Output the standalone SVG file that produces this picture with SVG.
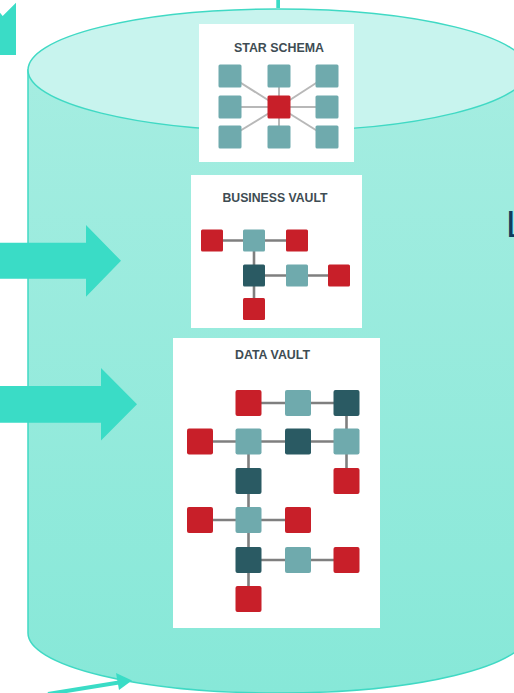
<svg xmlns="http://www.w3.org/2000/svg" width="514" height="693" viewBox="0 0 514 693">
<style>
.panel{fill:#ffffff}
.title{font-family:"Liberation Sans",Arial,sans-serif;font-weight:bold;font-size:12px;fill:#3e4c53;text-anchor:middle}
.t{fill:#6faaad}
.d{fill:#2a5a63}
.r{fill:#c81f29}
.ls{stroke:#b8b8b8;stroke-width:2;fill:none}
.lv{stroke:#7f7f7f;stroke-width:2.6;fill:none}
.arrow{fill:#3adcc6}
</style>
<defs>
<linearGradient id="body" x1="0" y1="0" x2="0" y2="1">
<stop offset="0" stop-color="#a5ede1"/>
<stop offset="1" stop-color="#87e8d8"/>
</linearGradient>
</defs>
<g id="cylinder">
<path d="M28,70 L28,633 A250,60 0 0 0 528,633 L528,70 Z" fill="url(#body)" stroke="#40d9c4" stroke-width="1.5"/>
<ellipse cx="278" cy="70" rx="250" ry="61" fill="#c8f4ee" stroke="#40d9c4" stroke-width="1.5"/>
</g>
<g id="star-schema">
<rect class="panel" x="199" y="24" width="155" height="138"/>
<text class="title" x="279" y="52" textLength="90" lengthAdjust="spacingAndGlyphs">STAR SCHEMA</text>
<g class="ls">
<line x1="279" y1="107" x2="230" y2="76"/><line x1="279" y1="107" x2="279" y2="76"/><line x1="279" y1="107" x2="327" y2="76"/>
<line x1="279" y1="107" x2="230" y2="107"/><line x1="279" y1="107" x2="327" y2="107"/>
<line x1="279" y1="107" x2="230" y2="137"/><line x1="279" y1="107" x2="279" y2="137"/><line x1="279" y1="107" x2="327" y2="137"/>
</g>
<rect class="t" x="218.5" y="64.5" width="23" height="23" rx="1.5"/>
<rect class="t" x="267.5" y="64.5" width="23" height="23" rx="1.5"/>
<rect class="t" x="315.5" y="64.5" width="23" height="23" rx="1.5"/>
<rect class="t" x="218.5" y="95.5" width="23" height="23" rx="1.5"/>
<rect class="r" x="267.5" y="95.5" width="23" height="23" rx="1.5"/>
<rect class="t" x="315.5" y="95.5" width="23" height="23" rx="1.5"/>
<rect class="t" x="218.5" y="125.5" width="23" height="23" rx="1.5"/>
<rect class="t" x="267.5" y="125.5" width="23" height="23" rx="1.5"/>
<rect class="t" x="315.5" y="125.5" width="23" height="23" rx="1.5"/>
</g>
<g id="business-vault">
<rect class="panel" x="191" y="175" width="171" height="153"/>
<text class="title" x="275" y="201.5" textLength="105" lengthAdjust="spacingAndGlyphs">BUSINESS VAULT</text>
<g class="lv">
<line x1="212" y1="240.5" x2="297" y2="240.5"/>
<line x1="254" y1="240.5" x2="254" y2="309"/>
<line x1="254" y1="275.5" x2="339" y2="275.5"/>
</g>
<rect class="r" x="201" y="229.5" width="22" height="22" rx="1.5"/>
<rect class="t" x="243" y="229.5" width="22" height="22" rx="1.5"/>
<rect class="r" x="286" y="229.5" width="22" height="22" rx="1.5"/>
<rect class="d" x="243" y="264.5" width="22" height="22" rx="1.5"/>
<rect class="t" x="286" y="264.5" width="22" height="22" rx="1.5"/>
<rect class="r" x="328" y="264.5" width="22" height="22" rx="1.5"/>
<rect class="r" x="243" y="298" width="22" height="22" rx="1.5"/>
</g>
<g id="data-vault">
<rect class="panel" x="173" y="338" width="207" height="290"/>
<text class="title" x="272.5" y="359" textLength="75" lengthAdjust="spacingAndGlyphs">DATA VAULT</text>
<g class="lv">
<line x1="248.5" y1="403" x2="346.5" y2="403"/>
<line x1="346.5" y1="403" x2="346.5" y2="481"/>
<line x1="200" y1="441.5" x2="346.5" y2="441.5"/>
<line x1="248.5" y1="441.5" x2="248.5" y2="599"/>
<line x1="200" y1="520" x2="298" y2="520"/>
<line x1="248.5" y1="560" x2="346.5" y2="560"/>
</g>
<rect class="r" x="235.5" y="390" width="26" height="26" rx="2"/>
<rect class="t" x="285" y="390" width="26" height="26" rx="2"/>
<rect class="d" x="333.5" y="390" width="26" height="26" rx="2"/>
<rect class="r" x="187" y="428.5" width="26" height="26" rx="2"/>
<rect class="t" x="235.5" y="428.5" width="26" height="26" rx="2"/>
<rect class="d" x="285" y="428.5" width="26" height="26" rx="2"/>
<rect class="t" x="333.5" y="428.5" width="26" height="26" rx="2"/>
<rect class="d" x="235.5" y="468" width="26" height="26" rx="2"/>
<rect class="r" x="333.5" y="468" width="26" height="26" rx="2"/>
<rect class="r" x="187" y="507" width="26" height="26" rx="2"/>
<rect class="t" x="235.5" y="507" width="26" height="26" rx="2"/>
<rect class="r" x="285" y="507" width="26" height="26" rx="2"/>
<rect class="d" x="235.5" y="547" width="26" height="26" rx="2"/>
<rect class="t" x="285" y="547" width="26" height="26" rx="2"/>
<rect class="r" x="333.5" y="547" width="26" height="26" rx="2"/>
<rect class="r" x="235.5" y="586" width="26" height="26" rx="2"/>
</g>
<g id="label-l">
<text x="506" y="237" font-family="'Liberation Sans',Arial,sans-serif" font-size="37" fill="#0f3c5e">L</text>
</g>
<g id="connectors">
<polygon class="arrow" points="0,12.7 2.7,16 16,2.7 16,55 0,55"/>
<rect class="arrow" x="276.3" y="0" width="3.7" height="8"/>
<polygon class="arrow" points="0,242.7 86,242.7 86,225 121,260.8 86,296.7 86,278.7 0,278.7"/>
<polygon class="arrow" points="0,386 101,386 101,368 137,404.3 101,440.6 101,422.7 0,422.7"/>
<line x1="48" y1="694" x2="122" y2="682" stroke="#3adcc6" stroke-width="4"/>
<polygon class="arrow" points="116,673 132,680.5 119,690"/>
</g>
</svg>
